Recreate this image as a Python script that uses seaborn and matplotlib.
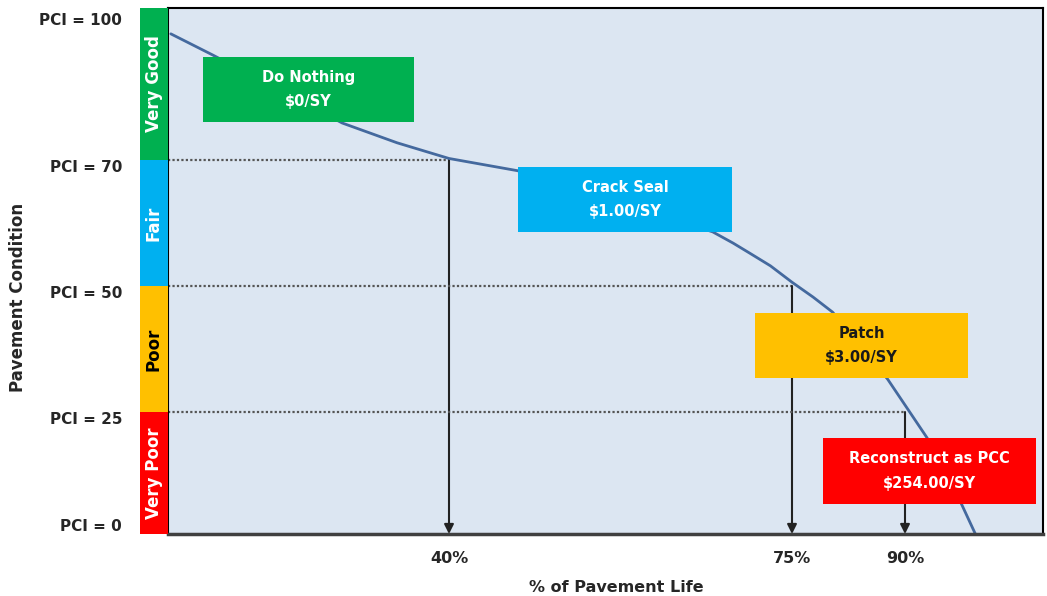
import numpy as np
import pandas as pd
import matplotlib
matplotlib.use("Agg")
import matplotlib.pyplot as plt
import seaborn as sns
from matplotlib.patches import Rectangle
from matplotlib.transforms import blended_transform_factory, ScaledTranslation

# deterioration curve (% of life, PCI)
life_pct = [0.4, 6.4, 24.8, 32.6, 40, 47.0, 66.9, 69.0, 70.7, 72.8, 75, 77.8, 80.4, 87.7, 91.6, 94.1, 95.1]
pci = [94.9, 90.7, 77.3, 73.4, 70.3, 68.3, 58.6, 56.8, 55.2, 53.2, 50.6, 47.8, 44.8, 31.5, 19.7, 6.1, 0]

# PCI thresholds and the life at which they are reached
thresholds = [70, 50, 25]
life_at_threshold = [40, 75, 90]
x_tick_labels = ['40%', '75%', '90%']
y_ticks = [100, 70, 50, 25, 0]
y_tick_labels = ['PCI = 100', 'PCI = 70', 'PCI = 50', 'PCI = 25', 'PCI = 0']

# condition bands
band_names = ['Very Good', 'Fair', 'Poor', 'Very Poor']
band_low = [70, 50, 25, 0]
band_high = [100, 70, 50, 25]
band_colors = ['#00B050', '#00B0F0', '#FFC000', '#FF0000']
band_text = ['white', 'white', 'black', 'white']

# treatments
treatments = ['Do Nothing', 'Crack Seal', 'Patch', 'Reconstruct as PCC']
costs = ['$0/SY', '$1.00/SY', '$3.00/SY', '$254.00/SY']
box_x = [(5.0, 35.0), (47.0, 68.9), (71.2, 94.6), (79.1, 99.5)]
box_y = [(77.5, 90.3), (58.6, 68.9), (31.75, 44.6), (6.1, 19.7)]
box_colors = ['#00B050', '#00B0F0', '#FFC000', '#FF0000']
box_text = ['white', 'white', '#1a1a1a', 'white']

# schematic (non linear) axes, as in the original sketch
x_knots = [0, 40, 75, 90, 100]
x_pos = [0, 281, 624, 737, 875]
y_knots = [0, 25, 50, 70, 100]
y_pos = [0, 122, 248, 374, 526]


def mid(a, b, knots, pos):
    # middle of a span in screen terms
    return np.interp((np.interp(a, knots, pos) + np.interp(b, knots, pos)) / 2, pos, knots)


sns.set_style("white")
plt.rcParams['font.family'] = ['DejaVu Sans']
plt.rcParams['font.weight'] = 'bold'

fig = plt.figure(figsize=(10.47, 5.96), dpi=100)
ax = fig.add_axes([168 / 1047, 62 / 596, 875 / 1047, 526 / 596])
ax.set_facecolor('#DCE6F2')

ax.set_xscale('function', functions=(lambda v: np.interp(v, x_knots, x_pos),
                                     lambda p: np.interp(p, x_pos, x_knots)))
ax.set_yscale('function', functions=(lambda v: np.interp(v, y_knots, y_pos),
                                     lambda p: np.interp(p, y_pos, y_knots)))
ax.set_xlim(0, 100)
ax.set_ylim(0, 100)

curve = pd.DataFrame({'life': life_pct, 'pci': pci})
sns.lineplot(data=curve, x='life', y='pci', ax=ax, color='#44699E', lw=2, zorder=2, sort=False)

for y, x in zip(thresholds, life_at_threshold):
    ax.plot([0, x], [y, y], ls=(0, (1, 1)), color='#555555', lw=1.6, zorder=1)
    ax.annotate('', xy=(x, 0), xytext=(x, y),
                arrowprops=dict(arrowstyle='-|>', color='#222222', lw=1.5,
                                mutation_scale=14, shrinkA=0, shrinkB=0),
                zorder=1)

for name, cost, (x0, x1), (y0, y1), c, tc in zip(treatments, costs, box_x, box_y, box_colors, box_text):
    ax.add_patch(Rectangle((x0, y0), x1 - x0, y1 - y0, facecolor=c, edgecolor='none', zorder=3))
    ax.text(mid(x0, x1, x_knots, x_pos), mid(y0, y1, y_knots, y_pos), name + '\n' + cost,
            ha='center', va='center', color=tc,
            fontsize=10.5, fontweight='bold', linespacing=1.8, zorder=4)

# condition bands left of the plot
trans = blended_transform_factory(ax.transAxes, ax.transData)
for name, lo, hi, c, tc in zip(band_names, band_low, band_high, band_colors, band_text):
    ax.add_patch(Rectangle((-0.032, lo), 0.032, hi - lo, transform=trans, facecolor=c,
                           edgecolor='none', clip_on=False, zorder=3))
    ax.text(-0.016, mid(lo, hi, y_knots, y_pos), name, transform=trans, rotation=90,
            ha='center', va='center', color=tc, fontsize=12, fontweight='bold', zorder=4)

ax.set_xticks(life_at_threshold)
ax.set_xticklabels(x_tick_labels, fontsize=11.5, fontweight='bold')
ax.set_yticks(y_ticks)
ax.set_yticklabels(y_tick_labels, fontsize=11, fontweight='bold')
ax.tick_params(axis='x', length=0, pad=12)
ax.tick_params(axis='y', length=0, pad=33)
for lab in ax.get_yticklabels():
    lab.set_va('bottom' if lab.get_text() == 'PCI = 0' else 'top')
    if lab.get_text() == 'PCI = 100':
        lab.set_transform(lab.get_transform() + ScaledTranslation(0, -0.05, fig.dpi_scale_trans))

ax.set_ylabel('')
ax.set_xlabel('% of Pavement Life', fontsize=11.5, fontweight='bold', va='center')
ax.xaxis.set_label_coords((616 - 168) / 875, -(587 - 534) / 526)
fig.text(18 / 1047, 1 - 297 / 596, 'Pavement Condition', rotation=90, ha='center', va='center',
         fontsize=12, fontweight='bold')

for side in ['top', 'right', 'left']:
    ax.spines[side].set_color('black')
    ax.spines[side].set_linewidth(1.5)
ax.spines['bottom'].set_color('#404040')
ax.spines['bottom'].set_linewidth(2.5)

fig.savefig('out.png', dpi=100)
